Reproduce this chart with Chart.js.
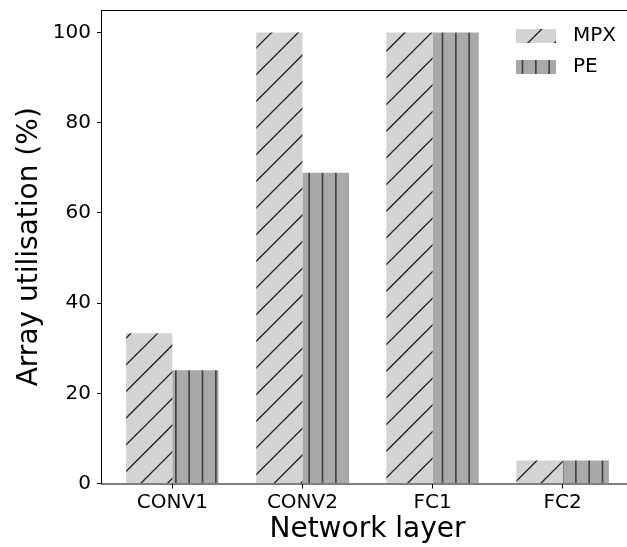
<!DOCTYPE html>
<html>
<head>
<meta charset="utf-8">
<script src="https://cdn.jsdelivr.net/npm/chart.js@4.4.0/dist/chart.umd.min.js"></script>
<style>
  html, body { margin: 0; padding: 0; overflow: hidden; background: #fff; }
  #wrap { width: 633px; height: 547px; }
</style>
</head>
<body>
<div id="wrap"><canvas id="chart"></canvas></div>
<script>
// Network layers and array utilisation (%) per layer
const layers = ['CONV1', 'CONV2', 'FC1', 'FC2'];
const mpxUtil = [33.3, 100, 100, 5.1];
const peUtil = [25.1, 68.9, 100, 5.1];
const yTicks = [0, 20, 40, 60, 80, 100];

const ctx = document.getElementById('chart').getContext('2d');

// Build a hatch pattern on an 80px tile (3 diagonal / 6 vertical periods)
function makeHatch(bg, draw) {
    const tile = document.createElement('canvas');
    tile.width = tile.height = 80;
    const g = tile.getContext('2d');
    g.fillStyle = bg;
    g.fillRect(0, 0, 80, 80);
    draw(g);
    return ctx.createPattern(tile, 'repeat');
}

const mpxFill = makeHatch('#d3d3d3', g => {
    g.strokeStyle = '#1e1e1e';
    g.lineWidth = 1.3;
    for (let k = -3; k <= 7; k++) {
        const c = 10.8 + k * 80 / 3;
        g.beginPath();
        g.moveTo(-5, c + 5);
        g.lineTo(c + 5, -5);
        g.stroke();
    }
});

const peFill = makeHatch('#a9a9a9', g => {
    g.strokeStyle = '#444';
    g.lineWidth = 1.7;
    for (let k = 0; k < 6; k++) {
        const x = 2.5 + k * 40 / 3;
        g.beginPath();
        g.moveTo(x, 0);
        g.lineTo(x, 80);
        g.stroke();
    }
});

// full box round the plot area, like matplotlib spines
const frame = {
    id: 'frame',
    afterDraw(chart) {
        const a = chart.chartArea;
        const c = chart.ctx;
        c.save();
        c.strokeStyle = '#000';
        c.lineWidth = 1;
        c.strokeRect(a.left - 0.5, a.top + 0.5, a.right - a.left + 0.5, a.bottom - a.top);
        c.restore();
    }
};

// legend in the upper right corner, inside the axes
const hatchLegend = {
    id: 'hatchLegend',
    afterDraw(chart) {
        const c = chart.ctx;
        c.save();
        c.font = '20px "DejaVu Sans"';
        c.textBaseline = 'middle';
        chart.data.datasets.forEach((ds, i) => {
            const y = 29 + i * 31;
            c.fillStyle = ds.backgroundColor;
            c.fillRect(516, y, 40, 14);
            c.fillStyle = '#000';
            c.fillText(ds.label, 573, y + 7);
        });
        c.restore();
    }
};

// no extra room for half-labels at the axis ends
function noEdgePadding(scale) {
    scale.paddingTop = 0;
    scale.paddingBottom = 0;
    scale.paddingLeft = 0;
    scale.paddingRight = 0;
}

Chart.defaults.font.family = '"DejaVu Sans", sans-serif';
Chart.defaults.color = '#000';

new Chart(ctx, {
    type: 'bar',
    data: {
        datasets: [{
            label: 'MPX',
            data: layers.map((l, i) => ({ x: i, y: mpxUtil[i] })),
            backgroundColor: mpxFill,
            borderWidth: 0
        }, {
            label: 'PE',
            data: layers.map((l, i) => ({ x: i, y: peUtil[i] })),
            backgroundColor: peFill,
            borderWidth: 0
        }]
    },
    options: {
        responsive: true,
        maintainAspectRatio: false,
        animation: false,
        events: [],
        layout: { padding: { top: 10, left: 0, right: 0, bottom: 0 } },
        datasets: {
            bar: { categoryPercentage: 0.71, barPercentage: 1.0 }
        },
        plugins: {
            legend: { display: false },
            tooltip: { enabled: false }
        },
        scales: {
            x: {
                type: 'linear',
                min: -0.5405,
                max: 3.5405,
                offset: false,
                grid: {
                    offset: false,
                    drawOnChartArea: false,
                    drawTicks: true,
                    tickLength: 5,
                    tickColor: '#000'
                },
                border: { display: false },
                afterBuildTicks: axis => {
                    axis.ticks = layers.map((l, i) => ({ value: i }));
                },
                afterFit: scale => {
                    scale.height = 63.5;
                    noEdgePadding(scale);
                },
                ticks: {
                    font: { size: 20 },
                    padding: 2,
                    maxRotation: 0,
                    autoSkip: false,
                    callback: v => layers[v]
                },
                title: {
                    display: true,
                    text: 'Network layer',
                    font: { size: 28 },
                    padding: { top: 0, bottom: 0 }
                }
            },
            y: {
                min: 0,
                max: 105,
                grid: {
                    drawOnChartArea: false,
                    drawTicks: true,
                    tickLength: 5,
                    tickColor: '#000'
                },
                border: { display: false },
                afterBuildTicks: axis => {
                    axis.ticks = yTicks.map(v => ({ value: v }));
                },
                afterFit: scale => {
                    scale.width = 102;
                    noEdgePadding(scale);
                },
                ticks: {
                    font: { size: 20 },
                    padding: 6
                },
                title: {
                    display: true,
                    text: 'Array utilisation (%)',
                    font: { size: 28 },
                    padding: { top: 13, bottom: 0 }
                }
            }
        }
    },
    plugins: [frame, hatchLegend]
});
</script>
</body>
</html>
